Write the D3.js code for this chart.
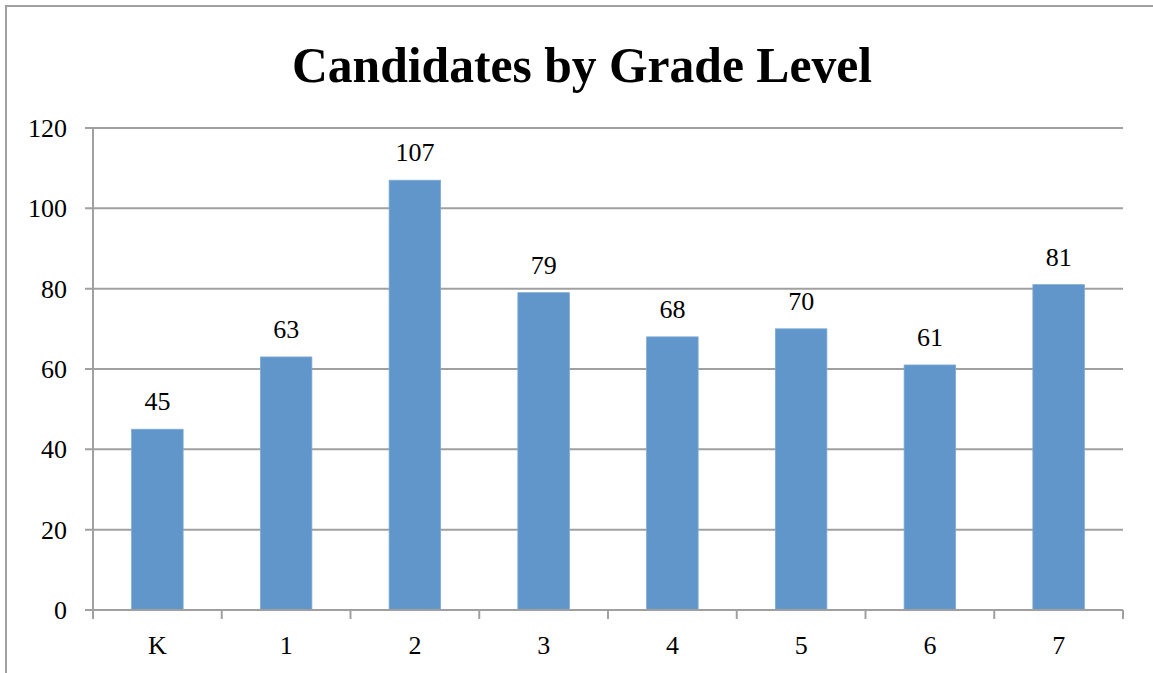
<!DOCTYPE html>
<html><head><meta charset="utf-8">
<script src="https://cdn.jsdelivr.net/npm/d3@7"></script>
<style>html,body{margin:0;padding:0;background:#fff;}svg{display:block;}</style>
</head><body>
<script>
const title = "Candidates by Grade Level";
const categories = ["K","1","2","3","4","5","6","7"];
const values = [45,63,107,79,68,70,61,81];
const yTicks = [0,20,40,60,80,100,120];

const W = 1153, H = 673;
const svg = d3.select("body").append("svg").attr("width", W).attr("height", H);
svg.append("rect").attr("width", W).attr("height", H).attr("fill", "#fff");
// chart border
svg.append("rect").attr("x", 6).attr("y", 6).attr("width", W + 10).attr("height", H + 10)
  .attr("fill", "none").attr("stroke", "#a0a0a0").attr("stroke-width", 2);

const pLeft = 93, pRight = 1123, pTop = 128, pBottom = 610;
const x = d3.scaleBand().domain(categories).range([pLeft, pRight]).padding(0);
const y = d3.scaleLinear().domain([0, 120]).range([pBottom, pTop]);
const font = "'Liberation Serif', 'DejaVu Serif', serif";
const gridColor = "#a0a0a0";
const fs = 26;

// gridlines
svg.append("g").selectAll("line").data(yTicks).join("line")
  .attr("x1", pLeft - 8).attr("x2", pRight)
  .attr("y1", d => y(d)).attr("y2", d => y(d))
  .attr("stroke", gridColor).attr("stroke-width", 2);

// y axis line
svg.append("line").attr("x1", pLeft).attr("x2", pLeft).attr("y1", pTop).attr("y2", pBottom + 1)
  .attr("stroke", gridColor).attr("stroke-width", 2);

// y labels
svg.append("g").selectAll("text").data(yTicks).join("text")
  .attr("x", 67).attr("y", d => y(d) + 9)
  .attr("text-anchor", "end").attr("font-family", font).attr("font-size", fs)
  .attr("fill", "#000").text(d => d);

// x ticks at band boundaries
const bounds = categories.map(c => x(c)).concat([pRight]);
svg.append("g").selectAll("line").data(bounds).join("line")
  .attr("x1", d => d).attr("x2", d => d).attr("y1", pBottom).attr("y2", pBottom + 9)
  .attr("stroke", gridColor).attr("stroke-width", 2);

// bars
const bw = x.bandwidth() * 0.4;
svg.append("g").selectAll("rect").data(values).join("rect")
  .attr("x", (d, i) => x(categories[i]) + x.bandwidth() / 2 - bw / 2)
  .attr("y", d => y(d)).attr("width", bw).attr("height", d => pBottom - y(d))
  .attr("fill", "#6096C9").attr("stroke", "#7FA9D4").attr("stroke-width", 0.8);

// re-draw x axis line over bars
svg.append("line").attr("x1", pLeft - 8).attr("x2", pRight).attr("y1", pBottom).attr("y2", pBottom)
  .attr("stroke", gridColor).attr("stroke-width", 2);

// value labels
svg.append("g").selectAll("text").data(values).join("text")
  .attr("x", (d, i) => x(categories[i]) + x.bandwidth() / 2)
  .attr("y", d => y(d) - 19)
  .attr("text-anchor", "middle").attr("font-family", font).attr("font-size", fs)
  .attr("fill", "#000").text(d => d);

// category labels
svg.append("g").selectAll("text").data(categories).join("text")
  .attr("x", d => x(d) + x.bandwidth() / 2).attr("y", 654)
  .attr("text-anchor", "middle").attr("font-family", font).attr("font-size", fs)
  .attr("fill", "#000").text(d => d);

// title
svg.append("text").attr("x", 582).attr("y", 82).attr("text-anchor", "middle")
  .attr("font-family", font).attr("font-weight", "bold").attr("font-size", 50)
  .attr("textLength", 580).attr("lengthAdjust", "spacingAndGlyphs")
  .attr("fill", "#000").text(title);
</script>
</body></html>
